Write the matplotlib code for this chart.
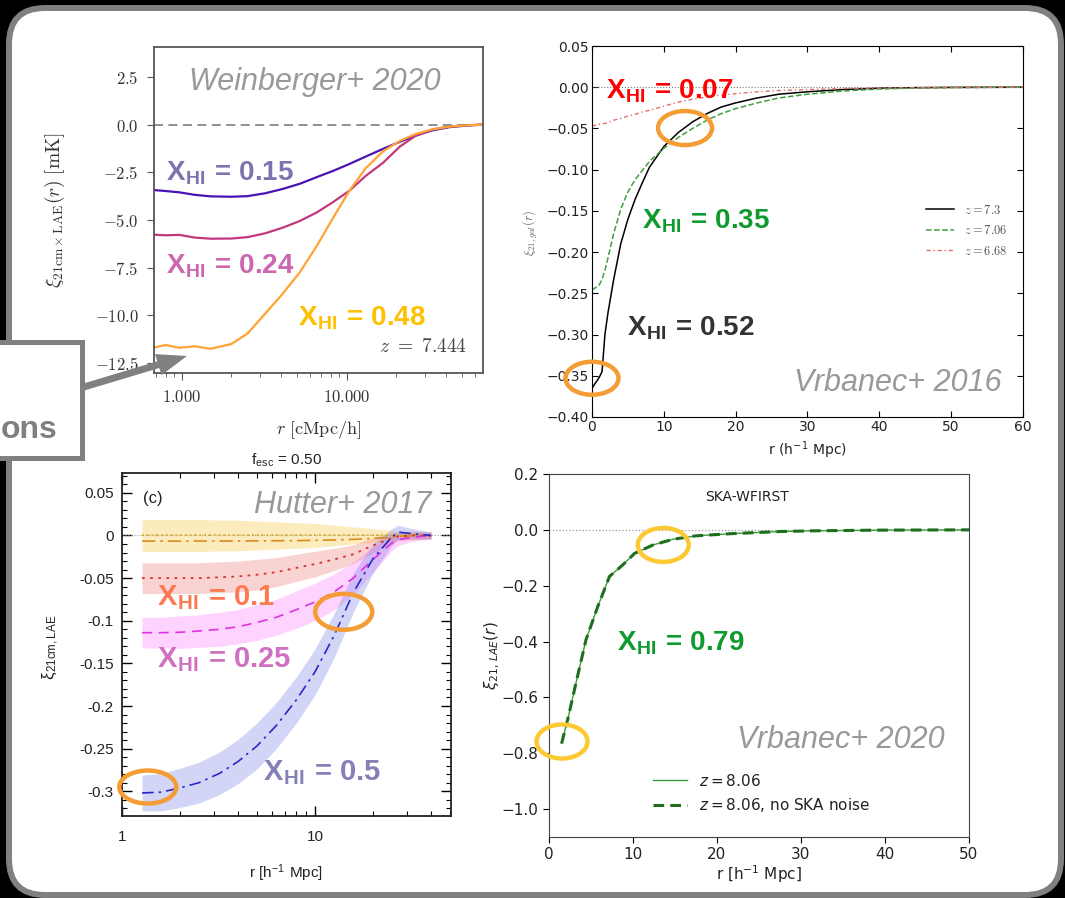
import numpy as np
import matplotlib.pyplot as plt
from matplotlib.patches import FancyBboxPatch, Rectangle, FancyArrow, Ellipse
from matplotlib.transforms import ScaledTranslation
from matplotlib.ticker import FixedLocator, FixedFormatter, FuncFormatter, MultipleLocator, NullFormatter, LogLocator

plt.rcParams['mathtext.fontset'] = 'cm'

# --- Weinberger+ 2020: xi_21cm x LAE [mK] vs r [cMpc/h], z = 7.444
w_r = [0.68, 0.8, 0.97, 1.2, 1.5, 2.0, 2.5, 3.2, 4.1, 5.2, 6.6, 8.3, 10.4, 13, 16.6, 21, 26, 33, 42, 55, 67]
w_x015 = [-3.43, -3.48, -3.55, -3.68, -3.76, -3.78, -3.75, -3.6, -3.37, -3.1, -2.75, -2.42, -2.06, -1.68,
          -1.27, -0.9, -0.58, -0.3, -0.13, -0.04, 0.0]
w_x024 = [-5.77, -5.8, -5.78, -5.92, -5.98, -5.97, -5.9, -5.7, -5.4, -5.05, -4.6, -4.05, -3.46, -2.7,
          -2.0, -1.15, -0.6, -0.25, -0.1, -0.03, 0.0]
w_x048 = [-11.69, -11.55, -11.7, -11.62, -11.75, -11.5, -10.96, -9.92, -8.86, -7.74, -6.35, -4.87, -3.46, -2.3,
          -1.4, -0.85, -0.5, -0.25, -0.1, -0.03, 0.0]

# --- Vrbanec+ 2016: xi_21,gal vs r (h^-1 Mpc)
v16_r = [0, 1, 1.4, 1.8, 2.2, 3, 4, 5, 6, 7, 8, 10, 12, 14, 16, 18, 20, 23, 26, 30, 35, 40, 45, 50, 55, 60]
v16_z73 = [-0.365, -0.352, -0.345, -0.30, -0.275, -0.234, -0.19, -0.16, -0.136, -0.116, -0.097, -0.072,
           -0.055, -0.042, -0.032, -0.024, -0.019, -0.013, -0.0085, -0.0055, -0.0028, -0.0012, -0.0005,
           -0.0002, -0.0001, 0.0]
v16_z706 = [-0.246, -0.240, -0.233, -0.222, -0.208, -0.178, -0.148, -0.127, -0.112, -0.101, -0.090, -0.074,
            -0.061, -0.050, -0.040, -0.032, -0.026, -0.019, -0.013, -0.0085, -0.0045, -0.0022, -0.001,
            -0.0005, -0.0002, 0.0]
v16_z668 = [-0.047, -0.045, -0.0445, -0.044, -0.043, -0.040, -0.038, -0.035, -0.033, -0.030, -0.028, -0.023,
            -0.018, -0.0145, -0.0118, -0.0095, -0.0078, -0.0055, -0.004, -0.0028, -0.0016, -0.001, -0.0006,
            -0.0003, -0.0001, 0.0]
v16_labels = [r"$z=7.3$", r"$z=7.06$", r"$z=6.68$"]

# --- Hutter+ 2017: xi_21cm,LAE vs r [h^-1 Mpc], f_esc = 0.50
h_r = [1.27, 1.6, 2.0, 2.5, 3.2, 4.0, 5.0, 6.3, 8.0, 10, 12.6, 15.8, 20, 25, 27, 32, 40]
h_dot = [0.0, 0.0, 0.0, 0.0, 0.0, 0.0, 0.0, 0.0, 0.0, 0.0, 0.0, 0.0, 0.0, 0.0, 0.0, 0.0, 0.0]
h_dashdot = [-0.0066, -0.0066, -0.0066, -0.0065, -0.0065, -0.0064, -0.0063, -0.0062, -0.006, -0.0057,
             -0.0052, -0.0045, -0.0035, -0.002, -0.0012, -0.0003, 0.0]
h_x01 = [-0.050, -0.050, -0.050, -0.050, -0.049, -0.048, -0.046, -0.043, -0.038, -0.0335, -0.028, -0.022,
         -0.0116, -0.003, -0.001, 0.0, 0.0]
h_x025 = [-0.114, -0.114, -0.1135, -0.112, -0.110, -0.107, -0.102, -0.096, -0.087, -0.078, -0.066, -0.050,
          -0.028, -0.009, -0.005, -0.002, 0.0]
h_x05 = [-0.302, -0.301, -0.296, -0.290, -0.279, -0.265, -0.247, -0.223, -0.193, -0.160, -0.117, -0.067,
         -0.027, -0.002, 0.004, 0.002, 0.0]
h_sig0 = [0.019, 0.019, 0.019, 0.019, 0.018, 0.018, 0.017, 0.016, 0.015, 0.014, 0.012, 0.010, 0.008, 0.006,
          0.005, 0.005, 0.004]
h_sig01 = [0.018, 0.018, 0.018, 0.018, 0.018, 0.018, 0.018, 0.017, 0.016, 0.015, 0.013, 0.011, 0.009, 0.006,
           0.005, 0.005, 0.004]
h_sig025 = [0.018, 0.018, 0.019, 0.019, 0.020, 0.020, 0.021, 0.021, 0.022, 0.022, 0.021, 0.019, 0.015, 0.009,
            0.007, 0.005, 0.004]
h_sig05 = [0.021, 0.022, 0.023, 0.024, 0.025, 0.026, 0.027, 0.027, 0.027, 0.027, 0.026, 0.023, 0.017, 0.010,
           0.008, 0.006, 0.004]
h_yticks = [0.05, 0, -0.05, -0.1, -0.15, -0.2, -0.25, -0.3]
h_ylabels = ['0.05', '0', '-0.05', '-0.1', '-0.15', '-0.2', '-0.25', '-0.3']

# --- Vrbanec+ 2020: SKA-WFIRST, z = 8.06
v20_r = [1.5, 2.3, 3.2, 4.4, 5.8, 7.2, 8.8, 10.2, 12.4, 14.8, 17.5, 21.5, 27.5, 31.4, 39.4, 50]
v20_xi = [-0.765, -0.67, -0.55, -0.394, -0.275, -0.167, -0.125, -0.084, -0.054, -0.0335, -0.0215, -0.014,
          -0.006, -0.0035, -0.001, 0.0]

W, H = 1065, 898
fig = plt.figure(figsize=(W / 100, H / 100), dpi=100, facecolor='black')

# slide background: rounded white card on black
bg = fig.add_axes([0, 0, 1, 1], zorder=-1)
bg.set_xlim(0, W)
bg.set_ylim(H, 0)
bg.axis('off')
bg.add_patch(FancyBboxPatch((9, 8), 1052, 887, boxstyle="round,pad=0,rounding_size=36",
                            fc='white', ec='#808080', lw=4.3))


def px_axes(x0, y0, x1, y1):
    return fig.add_axes([x0 / W, 1 - y1 / H, (x1 - x0) / W, (y1 - y0) / H])


def xhi(ax, x, y, val, color, size=20):
    ax.text(x, y, r"X$_{\mathregular{HI}}$ = " + val, transform=ax.transAxes, color=color,
            fontsize=size, fontweight='bold', family='Liberation Sans', va='baseline', zorder=9)


def ref(ax, x, y, txt, ha='right'):
    ax.text(x, y, txt, transform=ax.transAxes, color='#999999', fontsize=22, style='italic',
            family='Liberation Sans', ha=ha, va='center', zorder=9)


def ring(ax, x, y, w, h, color):
    tr = fig.dpi_scale_trans + ScaledTranslation(x, y, ax.transData)
    ax.add_patch(Ellipse((0, 0), w / fig.dpi, h / fig.dpi, transform=tr, fill=False,
                         ec=color, lw=3.2, clip_on=False, zorder=10))


ORANGE = '#f59c34'
YELLOW = '#fbc934'

# ---------------- Weinberger+ 2020
ax1 = px_axes(154, 47, 483, 373)
ax1.set_xscale('log')
ax1.axhline(0, color='#888888', ls=(0, (5, 3)), lw=1.3)
ax1.plot(w_r, w_x015, color='#4a14b4', lw=1.6)
ax1.plot(w_r, w_x024, color='#c2387f', lw=1.6)
ax1.plot(w_r, w_x048, color='#ffa332', lw=1.6)
ax1.set_xlim(0.68, 67)
ax1.set_ylim(-13.02, 4.07)
ax1.xaxis.set_major_locator(FixedLocator([1, 10]))
ax1.xaxis.set_major_formatter(FuncFormatter(lambda v, p: f"${v:.3f}$"))
ax1.xaxis.set_minor_locator(LogLocator(subs=np.arange(2, 10)))
ax1.xaxis.set_minor_formatter(NullFormatter())
ax1.yaxis.set_major_locator(FixedLocator([2.5, 0, -2.5, -5, -7.5, -10, -12.5]))
ax1.yaxis.set_major_formatter(FuncFormatter(lambda v, p: f"${v:.1f}$"))
ax1.tick_params(labelsize=12, labelcolor='#333333', color='#555555', length=5)
ax1.tick_params(axis='y', pad=6)
ax1.tick_params(axis='x', pad=6)
ax1.tick_params(which='minor', length=3, color='#555555')
for s in ax1.spines.values():
    s.set_color('#555555')
    s.set_linewidth(1.3)
ax1.set_xlabel(r"$r\ [\mathrm{cMpc/h}]$", fontsize=13, color='#333333')
ax1.set_ylabel(r"$\xi_{21\mathrm{cm}\times\mathrm{LAE}}(r)\ [\mathrm{mK}]$", fontsize=14, color='#333333')
ax1.xaxis.set_label_coords(0.5, -0.14)
ax1.yaxis.set_label_coords(-0.265, 0.5)
ax1.text(0.951, 0.08, r"$z\ =\ 7.444$", transform=ax1.transAxes, fontsize=14, color='#444444',
         ha='right', va='center')
ref(ax1, 0.489, 0.893, "Weinberger+ 2020", ha='center')
xhi(ax1, 0.036, 0.592, "0.15", '#8072ae')
xhi(ax1, 0.036, 0.307, "0.24", '#cc66b0')
xhi(ax1, 0.438, 0.147, "0.48", '#ffc000')

# ---------------- Vrbanec+ 2016
ax2 = px_axes(592, 46, 1023, 417)
ax2.axhline(0, color='#777777', ls=':', lw=0.8)
ax2.plot(v16_r, v16_z73, color='black', lw=1.1, label=v16_labels[0])
ax2.plot(v16_r, v16_z706, color='#3f9f3f', lw=1.1, ls='--', label=v16_labels[1])
ax2.plot(v16_r, v16_z668, color='#e07070', lw=1.0, ls=(0, (3, 2, 1, 2)), label=v16_labels[2])
ax2.set_xlim(0, 60)
ax2.set_ylim(-0.40, 0.05)
ax2.yaxis.set_major_locator(MultipleLocator(0.05))
ax2.tick_params(direction='in', top=True, right=True, length=4, labelsize=10, labelcolor='#222222', pad=2)
ax2.set_xlabel(r"r (h$^{\mathregular{-1}}$ Mpc)", fontsize=10, color='#222222')
ax2.set_ylabel(r"$\xi_{21,gal}(r)$", fontsize=9, color='#666666')
ax2.xaxis.set_label_coords(0.5, -0.062)
ax2.yaxis.set_label_coords(-0.121, 0.496)
leg2 = ax2.legend(loc='upper left', bbox_to_anchor=(0.75, 0.605), frameon=False, fontsize=9,
                  handlelength=2.2, labelspacing=0.6)
for t in leg2.get_texts():
    t.set_color('#555555')
ref(ax2, 0.951, 0.092, "Vrbanec+ 2016")
xhi(ax2, 0.032, 0.860, "0.07", '#ff0000')
xhi(ax2, 0.116, 0.509, "0.35", '#0f9a2e')
xhi(ax2, 0.081, 0.221, "0.52", '#333333')
ring(ax2, 12.95, -0.0495, 54, 34, ORANGE)
ring(ax2, 0.0, -0.353, 53, 33, ORANGE)

# ---------------- Hutter+ 2017
ax3 = px_axes(122, 473, 451, 816)
ax3.set_xscale('log')
ax3.axhline(0, color='#999999', ls=':', lw=0.8)
bands = [(h_dot, h_sig0, '#f5c842', 0.35), (h_x01, h_sig01, '#f08080', 0.35),
         (h_x025, h_sig025, '#ff70ff', 0.3), (h_x05, h_sig05, '#8088e8', 0.35)]
for mid, sig, col, a in bands:
    mid = np.array(mid)
    sig = np.array(sig)
    ax3.fill_between(h_r, mid - sig, mid + sig, color=col, alpha=a, lw=0)
ax3.plot(h_r, h_dot, color='#e0b020', ls=':', lw=1.3)
ax3.plot(h_r, h_dashdot, color='#d98c1a', ls=(0, (8, 3, 1.5, 3)), lw=1.2)
ax3.plot(h_r, h_x01, color='#d83030', ls=(0, (1.5, 3)), lw=1.3)
ax3.plot(h_r, h_x025, color='#e030e0', ls=(0, (6, 4)), lw=1.2)
ax3.plot(h_r, h_x05, color='#2828c8', ls=(0, (7, 3, 1.5, 3)), lw=1.2)
ax3.set_xlim(1, 50.7)
ax3.set_ylim(-0.329, 0.0733)
ax3.xaxis.set_major_locator(FixedLocator([1, 10]))
ax3.xaxis.set_major_formatter(FixedFormatter(['1', '10']))
ax3.xaxis.set_minor_locator(LogLocator(subs=np.arange(2, 10)))
ax3.xaxis.set_minor_formatter(NullFormatter())
ax3.yaxis.set_major_locator(FixedLocator(h_yticks))
ax3.yaxis.set_major_formatter(FixedFormatter(h_ylabels))
ax3.yaxis.set_minor_locator(MultipleLocator(0.01))
ax3.tick_params(which='both', direction='in', top=True, right=True, labelsize=11,
                labelfontfamily='Liberation Sans', labelcolor='#222222')
ax3.tick_params(which='major', length=7, width=1.0)
ax3.tick_params(which='minor', length=3.5, width=0.8)
ax3.tick_params(axis='x', which='major', pad=10)
ax3.tick_params(axis='y', which='major', pad=6)
for s in ax3.spines.values():
    s.set_linewidth(1.3)
    s.set_color('#222222')
ax3.set_xlabel(r"r [h$^{\mathregular{-1}}$ Mpc]", fontsize=11, family='Liberation Sans', color='#222222')
ax3.set_ylabel(r"ξ$_{\mathregular{21cm,LAE}}$", fontsize=12, family='Liberation Sans', color='#222222')
ax3.xaxis.set_label_coords(0.5, -0.134)
ax3.yaxis.set_label_coords(-0.185, 0.493)
ax3.text(0.5, 1.038, r"f$_{\mathregular{esc}}$ = 0.50", transform=ax3.transAxes, ha='center',
         va='center', fontsize=11, family='Liberation Sans', color='#222222')
ax3.text(0.064, 0.927, "(c)", transform=ax3.transAxes, ha='left', va='center', fontsize=12,
         family='Liberation Sans', color='#222222')
ref(ax3, 0.942, 0.907, "Hutter+ 2017")
xhi(ax3, 0.106, 0.615, "0.1", '#fb7a52', 21)
xhi(ax3, 0.106, 0.434, "0.25", '#d070c0', 21)
xhi(ax3, 0.429, 0.105, "0.5", '#8480b8', 21)
ring(ax3, 14.1, -0.0895, 57, 36, ORANGE)
ring(ax3, 1.36, -0.295, 57, 33, ORANGE)

# ---------------- Vrbanec+ 2020
ax4 = px_axes(549, 474, 969, 837)
ax4.axhline(0, color='#999999', ls=':', lw=0.9)
ax4.plot(v20_r, v20_xi, color='#3d9b3d', lw=1.0, label=r"$z = 8.06$")
ax4.plot(v20_r, v20_xi, color='#1e6e1e', lw=2.2, ls=(0, (3.5, 2)), label=r"$z = 8.06$, no SKA noise")
ax4.set_xlim(0, 50)
ax4.set_ylim(-1.1, 0.2)
ax4.yaxis.set_major_locator(MultipleLocator(0.2))
ax4.tick_params(labelsize=11, labelcolor='#222222', length=4)
for s in ax4.spines.values():
    s.set_color('#444444')
ax4.set_xlabel(r"r [h$^{-1}$ Mpc]", fontsize=11, color='#222222', math_fontfamily='dejavusans')
ax4.set_ylabel(r"$\xi_{21,\,LAE}(r)$", fontsize=11, color='#222222', math_fontfamily='dejavusans')
ax4.xaxis.set_label_coords(0.5, -0.072)
ax4.yaxis.set_label_coords(-0.112, 0.5)
leg4 = ax4.legend(loc='lower left', bbox_to_anchor=(0.215, 0.025), frameon=False, fontsize=11,
                  handlelength=2.2, labelspacing=0.5)
for t in leg4.get_texts():
    t.set_math_fontfamily('dejavusans')
    t.set_color('#222222')
ax4.text(0.471, 0.937, "SKA-WFIRST", transform=ax4.transAxes, ha='center', va='center',
         fontsize=10, color='#222222')
ref(ax4, 0.943, 0.267, "Vrbanec+ 2020")
xhi(ax4, 0.162, 0.515, "0.79", '#0f9a2e')
ring(ax4, 13.6, -0.054, 51, 34, YELLOW)
ring(ax4, 1.55, -0.758, 51, 34, YELLOW)

# callout box and arrow on top of everything
ov = fig.add_axes([0, 0, 1, 1], zorder=5)
ov.set_xlim(0, W)
ov.set_ylim(H, 0)
ov.axis('off')
ov.patch.set_alpha(0)
ov.add_patch(Rectangle((-10, 342), 92, 116, fc='white', ec='#808080', lw=3.6))
ov.text(58, 438, "ons", ha='right', va='baseline', fontsize=23, fontweight='bold',
        family='Liberation Sans', color='#808080')
ov.add_patch(FancyArrow(84, 387, 103, -31, width=7, head_width=22, head_length=30,
                        length_includes_head=True, color='#808080', lw=0))

fig.savefig('out.png', dpi=100, facecolor='black')
